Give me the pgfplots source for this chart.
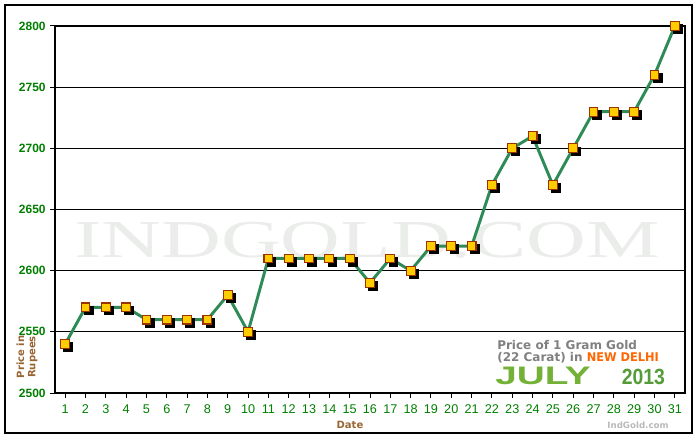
\documentclass[border=0pt]{standalone}
\usepackage{pgfplots}
\pgfplotsset{compat=1.18}
\usepackage{fontspec}
\usepackage{graphicx}
\setmainfont{Liberation Sans}
\newfontfamily\dejavu{DejaVu Sans}
\newfontfamily\serifwm{Liberation Serif}
\definecolor{tickgreen}{RGB}{0,128,0}
\definecolor{linegreen}{RGB}{46,139,87}
\definecolor{mkfill}{RGB}{255,204,0}
\definecolor{mkdraw}{RGB}{153,51,0}
\definecolor{labbrown}{RGB}{153,102,51}
\definecolor{wm}{RGB}{234,237,234}
\definecolor{txtgray}{RGB}{128,128,128}
\definecolor{delhi}{RGB}{255,102,0}
\definecolor{julygreen}{RGB}{115,178,55}
\definecolor{yeargreen}{RGB}{85,155,55}
\definecolor{sitegray}{RGB}{185,185,185}
\pgfplotstableread{
day price
1 2540
2 2570
3 2570
4 2570
5 2560
6 2560
7 2560
8 2560
9 2580
10 2550
11 2610
12 2610
13 2610
14 2610
15 2610
16 2590
17 2610
18 2600
19 2620
20 2620
21 2620
22 2670
23 2700
24 2710
25 2670
26 2700
27 2730
28 2730
29 2730
30 2760
31 2800
}\golddata
\begin{document}
\begin{tikzpicture}
\useasboundingbox (0,0) rectangle (525pt,330pt);
\fill[white] (0,0) rectangle (525pt,330pt);
\draw[black, line width=1pt] (3.75pt,5.25pt) rectangle (519pt,326.25pt);
\node[text=wm, inner sep=0] at (275.25pt,150pt) {\scalebox{1.55}[1]{\fontsize{40}{40}\selectfont\serifwm INDGOLD.COM}};
\begin{axis}[
  at={(41.25pt,35.25pt)}, anchor=south west,
  scale only axis, width=472.5pt, height=275.25pt,
  xmin=0.5, xmax=31.5, ymin=2500, ymax=2800,
  xtick={1,...,31}, ytick={2500,2550,...,2800},
  ymajorgrids, grid style={black, line width=0.75pt},
  axis line style={black, line width=1pt},
  tick style={black, line width=0.75pt},
  tick align=outside, tick pos=left, major tick length=3.5pt,
  /pgf/number format/assume math mode=true,
  /pgf/number format/1000 sep={},
  xticklabel style={font=\fontsize{9.5}{10}\selectfont, text=tickgreen, yshift=-2pt},
  yticklabel style={font=\bfseries\fontsize{9}{10}\selectfont, text=tickgreen},
  clip=false,
]
\addplot[only marks, mark=square*, mark size=3.3pt, black,
  every mark/.append style={xshift=2.2pt, yshift=-2.2pt}] table[x=day,y=price] {\golddata};
\addplot[linegreen, line width=2.2pt, no marks] table[x=day,y=price] {\golddata};
\addplot[only marks, mark=square*, mark size=3.3pt,
  mark options={fill=mkfill, draw=mkdraw, line width=0.8pt}] table[x=day,y=price] {\golddata};
\end{axis}
\node[rotate=90, text=labbrown, font=\dejavu\bfseries\fontsize{7.5}{8.5}\selectfont, align=center] at (20.25pt,62.25pt) {Price in\\Rupees};
\node[text=labbrown, font=\dejavu\bfseries\fontsize{7.5}{8.5}\selectfont] at (262.5pt,11.25pt) {Date};
\node[anchor=west, inner sep=0, text=txtgray, font=\dejavu\bfseries\fontsize{9}{10}\selectfont] at (372.75pt,71.25pt) {Price of 1 Gram Gold};
\node[anchor=west, inner sep=0, text=txtgray, font=\dejavu\bfseries\fontsize{9}{10}\selectfont] at (372.75pt,61.5pt) {(22 Carat) in \textcolor{delhi}{\scalebox{0.95}[1]{NEW DELHI}}};
\node[anchor=west, inner sep=0, text=julygreen, font=\bfseries\fontsize{19}{20}\selectfont] at (371.25pt,48pt) {\scalebox{1.53}[1]{JULY}};
\node[inner sep=0, text=yeargreen, font=\bfseries\fontsize{16.5}{18}\selectfont] at (482.6pt,47.25pt) {\scalebox{0.88}[1]{2013}};
\node[text=sitegray, font=\dejavu\bfseries\fontsize{6.5}{7}\selectfont] at (478.5pt,11.25pt) {IndGold.com};
\end{tikzpicture}
\end{document}
